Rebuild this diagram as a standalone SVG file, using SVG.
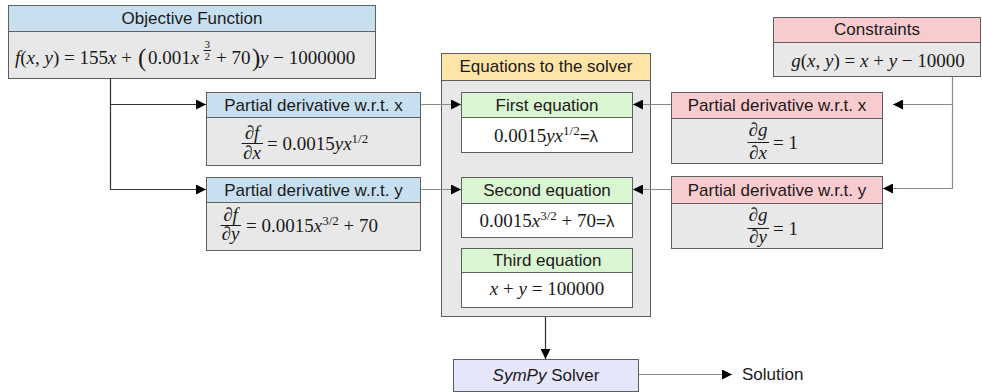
<svg xmlns="http://www.w3.org/2000/svg" width="982" height="392" viewBox="0 0 982 392">
<style>
.hdr{font-family:"Liberation Sans",Arial,sans-serif;font-size:17px;fill:#1a1a1a;text-anchor:middle}
.m{font-family:"Liberation Serif","Times New Roman",serif;font-size:19px;fill:#1a1a1a}
.mc{text-anchor:middle}
.i{font-style:italic}
.s{font-family:"Liberation Sans",Arial,sans-serif;font-size:17px}
.box{stroke:#5f5f5f;stroke-width:1}
.blue{fill:#c8dff0}
.pink{fill:#f8cbce}
.gray{fill:#e8e8e8}
.green{fill:#daf5d2}
.white{fill:#ffffff}
.orange{fill:#ffe4a8}
.lav{fill:#e6e6fa}
.bar{stroke:#1a1a1a;stroke-width:1}
.conn{stroke:#8a8a8a;stroke-width:1.2;fill:none}
.dark{stroke:#333333}
</style>
<defs>
<marker id="arr" markerUnits="userSpaceOnUse" markerWidth="11" markerHeight="10" refX="10" refY="5" orient="auto">
<path d="M0,0 L10,5 L0,10 z" fill="#000"/>
</marker>
</defs>

<g id="objective">
<rect class="box blue" x="8.5" y="5.5" width="367" height="26"/>
<rect class="box gray" x="8.5" y="31.5" width="367" height="47"/>
<text class="hdr" x="192" y="24">Objective Function</text>
<text class="m"><tspan x="15" y="64"><tspan class="i">f</tspan>(<tspan class="i">x</tspan>, <tspan class="i">y</tspan>) = 155<tspan class="i">x</tspan> + </tspan><tspan x="138" y="66" font-size="25">(</tspan><tspan x="148" y="64">0.001<tspan class="i">x</tspan></tspan><tspan x="204.5" y="48" font-size="11">3</tspan><tspan x="204.5" y="60" font-size="11">2</tspan><tspan x="216" y="64">+ 70</tspan><tspan x="252" y="66" font-size="25">)</tspan><tspan x="260" y="64"><tspan class="i">y</tspan> − 1000000</tspan></text>
<line class="bar" x1="203.5" y1="50.5" x2="211" y2="50.5"/>
</g>

<g id="constraints">
<rect class="box pink" x="773.5" y="17.5" width="207" height="25"/>
<rect class="box gray" x="773.5" y="42.5" width="207" height="34"/>
<text class="hdr" x="877" y="35">Constraints</text>
<text class="m mc" x="878" y="67"><tspan class="i">g</tspan>(<tspan class="i">x</tspan>, <tspan class="i">y</tspan>) = <tspan class="i">x</tspan> + <tspan class="i">y</tspan> − 10000</text>
</g>

<g id="pdfx">
<rect class="box blue" x="206.5" y="92.5" width="214" height="25"/>
<rect class="box gray" x="206.5" y="117.5" width="214" height="48"/>
<text class="hdr" x="313.5" y="110.5">Partial derivative w.r.t. x</text>
<text class="m mc" x="252" y="139">∂<tspan class="i">f</tspan></text>
<line class="bar" x1="241.5" y1="143.5" x2="263" y2="143.5"/>
<text class="m mc" x="252" y="159">∂<tspan class="i">x</tspan></text>
<text class="m" x="267" y="150">= 0.0015<tspan class="i">yx</tspan><tspan dy="-7" font-size="13">1/2</tspan></text>
</g>

<g id="pdfy">
<rect class="box blue" x="206.5" y="177.5" width="214" height="25"/>
<rect class="box gray" x="206.5" y="202.5" width="214" height="48"/>
<text class="hdr" x="313.5" y="195.5">Partial derivative w.r.t. y</text>
<text class="m mc" x="230.5" y="221">∂<tspan class="i">f</tspan></text>
<line class="bar" x1="220.5" y1="225.5" x2="241" y2="225.5"/>
<text class="m mc" x="230.5" y="240">∂<tspan class="i">y</tspan></text>
<text class="m" x="246" y="232">= 0.0015<tspan class="i">x</tspan><tspan dy="-7" font-size="13">3/2</tspan><tspan dy="7"> + 70</tspan></text>
</g>

<g id="equations">
<rect class="box orange" x="441.5" y="53.5" width="209" height="27"/>
<rect class="box gray" x="441.5" y="80.5" width="209" height="236"/>
<text class="hdr" x="546" y="72">Equations to the solver</text>
</g>

<g id="eq1">
<rect class="box green" x="461.5" y="92.5" width="171" height="25"/>
<rect class="box white" x="461.5" y="117.5" width="171" height="35"/>
<text class="hdr" x="547" y="110.5">First equation</text>
<text class="m mc" x="546" y="142">0.0015<tspan class="i">yx</tspan><tspan dy="-7" font-size="13">1/2</tspan><tspan dy="7" class="s">=λ</tspan></text>
</g>

<g id="eq2">
<rect class="box green" x="461.5" y="177.5" width="171" height="26"/>
<rect class="box white" x="461.5" y="203.5" width="171" height="34"/>
<text class="hdr" x="547" y="196">Second equation</text>
<text class="m mc" x="547" y="227">0.0015<tspan class="i">x</tspan><tspan dy="-7" font-size="13">3/2</tspan><tspan dy="7"> + 70</tspan><tspan class="s">=λ</tspan></text>
</g>

<g id="eq3">
<rect class="box green" x="461.5" y="248.5" width="171" height="24"/>
<rect class="box white" x="461.5" y="272.5" width="171" height="35"/>
<text class="hdr" x="547" y="266">Third equation</text>
<text class="m mc" x="547" y="295"><tspan class="i">x</tspan> + <tspan class="i">y</tspan> = 100000</text>
</g>

<g id="pdgx">
<rect class="box pink" x="671.5" y="92.5" width="211" height="26"/>
<rect class="box gray" x="671.5" y="118.5" width="211" height="45"/>
<text class="hdr" x="777" y="111">Partial derivative w.r.t. x</text>
<text class="m mc" x="758" y="136">∂<tspan class="i">g</tspan></text>
<line class="bar" x1="747.5" y1="142.5" x2="769" y2="142.5"/>
<text class="m mc" x="758" y="159">∂<tspan class="i">x</tspan></text>
<text class="m" x="773" y="149">= 1</text>
</g>

<g id="pdgy">
<rect class="box pink" x="671.5" y="176.5" width="211" height="27"/>
<rect class="box gray" x="671.5" y="203.5" width="211" height="45"/>
<text class="hdr" x="777" y="195.5">Partial derivative w.r.t. y</text>
<text class="m mc" x="758" y="221">∂<tspan class="i">g</tspan></text>
<line class="bar" x1="747.5" y1="228.5" x2="769" y2="228.5"/>
<text class="m mc" x="758" y="243">∂<tspan class="i">y</tspan></text>
<text class="m" x="773" y="235">= 1</text>
</g>

<g id="solver">
<rect class="box lav" x="453.5" y="359.5" width="185" height="32"/>
<text class="hdr" x="546" y="381"><tspan font-style="italic">SymPy</tspan> Solver</text>
</g>

<g id="solution">
<text class="hdr" x="742" y="380" style="text-anchor:start">Solution</text>
</g>

<g id="connectors">
<path class="conn dark" d="M110.5,78 V104.5 H206" marker-end="url(#arr)"/>
<path class="conn dark" d="M110.5,104 V189.5 H206" marker-end="url(#arr)"/>
<path class="conn" d="M421,104.5 H461" marker-end="url(#arr)"/>
<path class="conn" d="M421,189.5 H461" marker-end="url(#arr)"/>
<path class="conn" d="M671,104.5 H633" marker-end="url(#arr)"/>
<path class="conn" d="M671,189.5 H633" marker-end="url(#arr)"/>
<path class="conn" d="M952.5,77 V104.5 H893" marker-end="url(#arr)"/>
<path class="conn" d="M952.5,104 V188.5 H883" marker-end="url(#arr)"/>
<path class="conn dark" d="M545.5,317 V359" marker-end="url(#arr)"/>
<path class="conn" d="M639,374.5 H732" marker-end="url(#arr)"/>
</g>
</svg>
